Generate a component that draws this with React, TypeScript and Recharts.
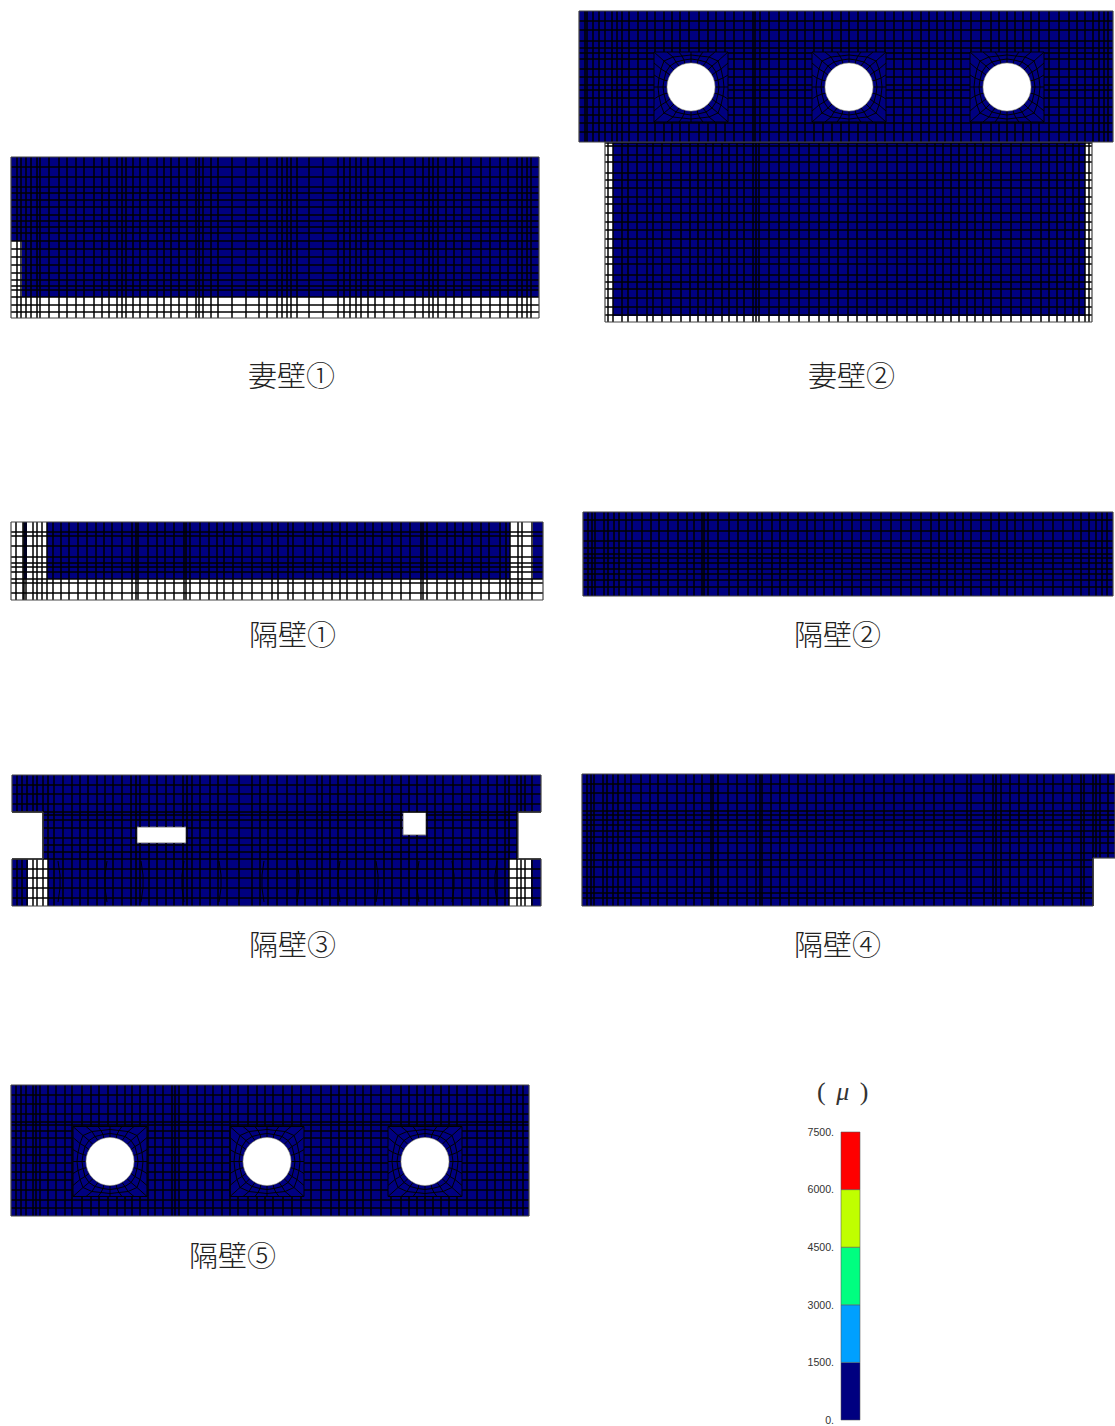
import React from 'react';
import { Bar, BarChart, ComposedChart, Line, ReferenceArea, ReferenceDot, ReferenceLine, XAxis, YAxis } from 'recharts';

type Rect = number[]; // x1, x2, y1, y2
type Pt = number[];

// mesh node lines, in panel units
const end1Xs = [6, 10, 15, 20, 26, 29, 38, 48, 56, 65, 73, 83, 91, 98, 106, 111, 115, 122, 129, 137, 146, 153, 160, 168, 176, 185, 188, 192, 200, 207, 221, 235, 248, 256, 266, 271, 276, 280, 286, 298, 312, 327, 333, 339, 345, 350, 357, 364, 373, 383, 393, 404, 412, 418, 422, 427, 435, 443, 451, 460, 470, 479, 489, 497, 506, 511, 516, 520];
const end1Ys = [10, 20, 30, 36, 43, 50, 58, 64, 70, 76, 84, 92, 100, 108, 116, 123, 129, 133, 140, 148, 155];
const end1Blue = [[0, 528, 0, 84], [11, 528, 84, 140]];

const end2TopXs = [6, 8, 14, 20, 26, 33, 38, 43, 50, 59, 68, 76, 85, 93, 101, 110, 120, 129, 137, 146, 155, 165, 174, 176, 181, 190, 200, 209, 218, 226, 235, 244, 253, 262, 270, 279, 288, 297, 306, 315, 324, 333, 342, 350, 358, 366, 374, 382, 392, 402, 412, 420, 428, 436, 444, 452, 460, 470, 480, 490, 498, 506, 514, 520, 525, 529];
const end2TopYs = [10, 19, 30, 37, 42, 48, 58, 66, 74, 79, 87, 96, 104, 112, 121];
const end2Holes = [[112, 76], [270, 76], [428, 76]];

const end2LowXs = [3, 8, 17, 23, 32, 42, 48, 57, 66, 76, 85, 93, 101, 108, 117, 124, 132, 139, 148, 151, 154, 164, 174, 184, 194, 204, 214, 224, 233, 243, 252, 262, 272, 282, 292, 302, 312, 322, 330, 338, 346, 354, 362, 370, 378, 386, 396, 406, 416, 426, 436, 444, 452, 460, 468, 474, 480, 484];
const end2LowYs = [1, 4, 13, 20, 31, 38, 46, 55, 62, 71, 80, 88, 97, 106, 115, 122, 133, 140, 147, 156, 165, 173];
const end2LowBlue = [[8, 480, 0, 174]];

const part1Xs = [5, 12, 13, 15, 22, 26, 31, 36, 42, 50, 58, 67, 76, 85, 93, 101, 111, 121, 125, 127, 137, 146, 154, 163, 173, 175, 179, 189, 198, 206, 213, 222, 231, 241, 251, 261, 267, 277, 282, 294, 302, 312, 321, 329, 336, 346, 354, 362, 371, 381, 390, 399, 410, 412, 416, 426, 436, 444, 452, 461, 470, 478, 489, 495, 499, 507, 511, 521];
const part1Ys = [10, 14, 24, 35, 41, 45, 50, 57, 61, 71];
const part1Blue = [[13, 16, 0, 57], [36, 499, 0, 57], [522, 532, 0, 57]];

const part2Xs = [5, 9, 12, 21, 25, 31, 36, 43, 49, 59, 68, 76, 85, 95, 104, 111, 119, 121, 125, 135, 146, 155, 165, 174, 179, 189, 197, 205, 215, 224, 232, 241, 251, 259, 269, 278, 288, 298, 308, 318, 328, 338, 348, 356, 364, 372, 380, 388, 398, 408, 416, 424, 432, 440, 450, 460, 470, 480, 490, 498, 506, 513, 519, 524];
const part2Ys = [8, 19, 29, 36, 42, 46, 51, 57, 62, 68, 75];

const part3Xs = [5, 10, 15, 21, 25, 31, 36, 42, 51, 60, 68, 76, 85, 93, 101, 110, 119, 124, 128, 137, 145, 154, 162, 171, 175, 180, 188, 198, 206, 215, 227, 240, 248, 256, 265, 275, 285, 293, 305, 310, 318, 326, 335, 344, 353, 363, 372, 380, 389, 397, 405, 415, 423, 431, 441, 450, 459, 468, 476, 485, 493, 497, 505, 509, 513, 520];
const part3Ys = [10, 19, 29, 37, 40, 45, 53, 63, 70, 77, 84, 94, 103, 113, 123];
const part3Blue = [[0, 529, 0, 37], [31, 506, 37, 84], [0, 16, 84, 131], [36, 497, 84, 131], [519, 529, 84, 131]];
const part3Notches = [[0, 31, 37, 84], [506, 529, 37, 84]];
const part3Openings = [[125, 174, 52, 68], [391, 414, 37, 60]];
// bowed mesh lines in the lower band: x, bulge
const part3Bows = [[46, 2], [95, -2], [129, 2], [172, -2], [207, 2], [252, -2], [285, 2], [328, -2], [364, 2], [407, -2], [440, 2], [485, -2]];

const part4Xs = [5, 9, 12, 21, 25, 31, 36, 43, 49, 59, 68, 76, 85, 95, 104, 112, 120, 129, 131, 136, 146, 155, 165, 174, 178, 180, 189, 198, 207, 216, 225, 234, 243, 252, 262, 272, 282, 292, 302, 312, 322, 332, 342, 352, 362, 372, 385, 389, 402, 411, 414, 419, 428, 437, 446, 455, 462, 471, 481, 490, 499, 502, 511, 514, 518, 526];
const part4Ys = [10, 19, 29, 37, 41, 46, 51, 57, 63, 69, 79, 86, 93, 103, 113, 119, 124];
const part4Blue = [[0, 533, 0, 84], [0, 511, 84, 132]];
const part4Notches = [[511, 533, 84, 132]];

const part5Xs = [5, 10, 15, 22, 25, 29, 37, 45, 54, 61, 71, 80, 88, 97, 106, 114, 121, 129, 137, 144, 152, 161, 164, 168, 177, 186, 194, 202, 211, 219, 227, 237, 246, 254, 262, 272, 281, 290, 300, 310, 320, 328, 336, 344, 352, 360, 370, 380, 390, 398, 406, 414, 422, 430, 438, 446, 456, 466, 476, 484, 492, 500, 506, 512];
const part5Ys = [10, 19, 29, 37, 40, 46, 53, 62, 70, 78, 87, 95, 105, 115, 123];
const part5Holes = [[99, 76.5], [256, 76.5], [414, 76.5]];

// mesh around a round hole, same node order on every ring
const holeEdge = [[-17, -17], [-12, -21], [-6, -23], [0, -24], [6, -23], [12, -21], [17, -17], [21, -12], [23, -6], [24, 0], [23, 6], [21, 12], [17, 17], [12, 21], [6, 23], [0, 24], [-6, 23], [-12, 21], [-17, 17], [-21, 12], [-23, 6], [-24, 0], [-23, -6], [-21, -12]];
const holeRingA = [[-21, -21], [-15, -25], [-7, -27], [0, -28], [7, -27], [15, -25], [21, -21], [25, -15], [27, -7], [28, 0], [27, 7], [25, 15], [21, 21], [15, 25], [7, 27], [0, 28], [-7, 27], [-15, 25], [-21, 21], [-25, 15], [-27, 7], [-28, 0], [-27, -7], [-25, -15]];
const holeRingB = [[-27, -26], [-18, -30], [-9, -31], [0, -32], [9, -31], [18, -30], [27, -26], [30, -18], [32, -9], [33, 0], [32, 9], [30, 18], [27, 26], [18, 30], [9, 31], [0, 32], [-9, 31], [-18, 30], [-27, 26], [-30, 18], [-32, 9], [-33, 0], [-32, -9], [-30, -18]];
const holeRingC = [[-37, -35], [-24, -35], [-12, -35], [0, -35], [12, -35], [24, -35], [37, -35], [37, -24], [37, -12], [37, 0], [37, 12], [37, 24], [37, 35], [24, 35], [12, 35], [0, 35], [-12, 35], [-24, 35], [-37, 35], [-37, 24], [-37, 12], [-37, 0], [-37, -12], [-37, -24]];
const holeRings = [holeEdge, holeRingA, holeRingB, holeRingC];
const holeRadius = 24;

// colour scale
const scaleTicks = [0, 1500, 3000, 4500, 6000, 7500];
const scaleBands = [1500, 1500, 1500, 1500, 1500];
const scaleColors = ['#000080', '#00a0ff', '#00ff80', '#c0ff00', '#ff0000'];
const scaleRow: Record<string, number | string> = { name: 'strain' };
scaleBands.forEach((v, i) => { scaleRow[`band${i}`] = v; });

const captions = [
  { text: '妻壁①', left: 248, top: 374 },
  { text: '妻壁②', left: 808, top: 374 },
  { text: '隔壁①', left: 249, top: 633 },
  { text: '隔壁②', left: 794, top: 633 },
  { text: '隔壁③', left: 249, top: 943 },
  { text: '隔壁④', left: 794, top: 943 },
  { text: '隔壁⑤', left: 189, top: 1254 },
];

const BLUE = '#000080';
const MESH = '#000';
const MESH_W = 1.5;
const HOLE_MESH_W = 1;

// breaks one span so it stays out of the cut rectangles
function splitSpan(fixed: number, from: number, to: number, cuts: Rect[], vertical: boolean) {
  let spans = [[from, to]];
  cuts.forEach(([x1, x2, y1, y2]) => {
    const [a0, a1, b0, b1] = vertical ? [x1, x2, y1, y2] : [y1, y2, x1, x2];
    if (fixed <= a0 || fixed >= a1) return;
    spans = spans.flatMap(([s, e]) => {
      if (e <= b0 || s >= b1) return [[s, e]];
      const out: number[][] = [];
      if (s < b0) out.push([s, b0]);
      if (e > b1) out.push([b1, e]);
      return out;
    });
  });
  return spans;
}

function seg(key: string, a: Pt, b: Pt, stroke = MESH, strokeWidth = MESH_W) {
  return (
    <ReferenceLine
      key={key}
      segment={[{ x: a[0], y: a[1] }, { x: b[0], y: b[1] }]}
      stroke={stroke}
      strokeWidth={strokeWidth}
      ifOverflow="visible"
    />
  );
}

interface WallProps {
  left: number;
  top: number;
  w: number;
  h: number;
  xs: number[];
  ys: number[];
  blue?: Rect[];
  notches?: Rect[];
  openings?: Rect[];
  holes?: number[][];
  bows?: number[][];
  outline: Pt[];
}

function Wall({ left, top, w, h, xs, ys, blue, notches = [], openings = [], holes = [], bows = [], outline }: WallProps) {
  const zones = holes.map(([cx, cy]) => [cx - 37, cx + 37, cy - 35, cy + 35]);
  const cuts = [...notches, ...openings, ...zones];
  const regions = blue ?? [[0, w, 0, h]];
  // the two panel corners give the chart a row to scale against
  const corners = [{ x: 0, y: 0 }, { x: w, y: h }];

  return (
    <div style={{ position: 'absolute', left: left - 1, top: top - 1 }}>
      <ComposedChart width={w + 2} height={h + 2} data={corners} margin={{ top: 1, right: 1, bottom: 1, left: 1 }}>
        <XAxis type="number" dataKey="x" domain={[0, w]} hide />
        <YAxis type="number" dataKey="y" domain={[0, h]} reversed hide />
        <Line dataKey="y" stroke="none" dot={false} legendType="none" isAnimationActive={false} />
        {regions.map((r, i) => (
          <ReferenceArea key={`b${i}`} x1={r[0]} x2={r[1]} y1={r[2]} y2={r[3]} fill={BLUE} fillOpacity={1} stroke="none" ifOverflow="visible" />
        ))}
        {xs.flatMap((x, i) =>
          splitSpan(x, 0, h, cuts, true).map(([s, e], j) => seg(`x${i}-${j}`, [x, s], [x, e])),
        )}
        {ys.flatMap((y, i) =>
          splitSpan(y, 0, w, cuts, false).map(([s, e], j) => seg(`y${i}-${j}`, [s, y], [e, y])),
        )}
        {bows.flatMap(([x, bulge], i) => [
          seg(`w${i}a`, [x, 86], [x + bulge, 100], MESH, HOLE_MESH_W),
          seg(`w${i}b`, [x + bulge, 100], [x + bulge, 113], MESH, HOLE_MESH_W),
          seg(`w${i}c`, [x + bulge, 113], [x, 127], MESH, HOLE_MESH_W),
        ])}
        {holes.flatMap(([cx, cy], n) =>
          holeRings.flatMap((ring, r) =>
            ring.flatMap((p, i) => {
              const at = (q: Pt): Pt => [cx + q[0], cy + q[1]];
              const next = ring[(i + 1) % ring.length];
              const parts = [seg(`h${n}-${r}-${i}`, at(p), at(next), MESH, HOLE_MESH_W)];
              if (r < holeRings.length - 1) parts.push(seg(`s${n}-${r}-${i}`, at(p), at(holeRings[r + 1][i]), MESH, HOLE_MESH_W));
              return parts;
            }),
          ),
        )}
        {openings.map((r, i) => (
          <ReferenceArea key={`o${i}`} x1={r[0]} x2={r[1]} y1={r[2]} y2={r[3]} fill="#fff" fillOpacity={1} stroke="#777" ifOverflow="visible" />
        ))}
        {holes.map(([cx, cy], n) => (
          <ReferenceDot key={`d${n}`} x={cx} y={cy} r={holeRadius} fill="#fff" stroke="#aaa" strokeWidth={0.6} ifOverflow="visible" />
        ))}
        {outline.map((p, i) => seg(`l${i}`, p, outline[(i + 1) % outline.length], '#444', 1.2))}
      </ComposedChart>
    </div>
  );
}

function ScaleBar() {
  return (
    <div style={{ position: 'absolute', left: 790, top: 1122 }}>
      <BarChart
        width={75}
        height={304}
        data={[scaleRow]}
        margin={{ top: 10, right: 5, bottom: 6, left: 0 }}
        barCategoryGap={0}
      >
        <XAxis dataKey="name" hide />
        <YAxis
          width={51}
          domain={[0, 7500]}
          ticks={scaleTicks}
          interval={0}
          axisLine={false}
          tickLine={false}
          tickSize={0}
          tickMargin={7}
          tickFormatter={(v: number) => `${v}.`}
          tick={{ fontFamily: 'Liberation Sans', fontSize: 10.6, fill: '#333' }}
        />
        {scaleBands.map((_, i) => (
          <Bar
            key={i}
            dataKey={`band${i}`}
            stackId="scale"
            fill={scaleColors[i]}
            stroke="#555"
            strokeOpacity={0.55}
            isAnimationActive={false}
          />
        ))}
      </BarChart>
    </div>
  );
}

export default function App() {
  return (
    <div style={{ position: 'absolute', left: 0, top: 0, width: 1115, height: 1426, background: '#fff', overflow: 'hidden' }}>
      <Wall left={11} top={157} w={528} h={161} xs={end1Xs} ys={end1Ys} blue={end1Blue}
        outline={[[0, 0], [528, 0], [528, 161], [0, 161]]} />
      <Wall left={605} top={142} w={487} h={180} xs={end2LowXs} ys={end2LowYs} blue={end2LowBlue}
        outline={[[0, 0], [487, 0], [487, 180], [0, 180]]} />
      <Wall left={579} top={11} w={534} h={131} xs={end2TopXs} ys={end2TopYs} holes={end2Holes}
        outline={[[0, 0], [534, 0], [534, 131], [0, 131]]} />
      <Wall left={11} top={522} w={532} h={78} xs={part1Xs} ys={part1Ys} blue={part1Blue}
        outline={[[0, 0], [532, 0], [532, 78], [0, 78]]} />
      <Wall left={583} top={512} w={530} h={84} xs={part2Xs} ys={part2Ys}
        outline={[[0, 0], [530, 0], [530, 84], [0, 84]]} />
      <Wall left={12} top={775} w={529} h={131} xs={part3Xs} ys={part3Ys} blue={part3Blue}
        notches={part3Notches} openings={part3Openings} bows={part3Bows}
        outline={[[0, 0], [529, 0], [529, 37], [506, 37], [506, 84], [529, 84], [529, 131], [0, 131], [0, 84], [31, 84], [31, 37], [0, 37]]} />
      <Wall left={582} top={774} w={533} h={132} xs={part4Xs} ys={part4Ys} blue={part4Blue} notches={part4Notches}
        outline={[[0, 0], [533, 0], [533, 84], [511, 84], [511, 132], [0, 132]]} />
      <Wall left={11} top={1085} w={518} h={131} xs={part5Xs} ys={part5Ys} holes={part5Holes}
        outline={[[0, 0], [518, 0], [518, 131], [0, 131]]} />

      {captions.map((c) => (
        <div
          key={c.text}
          style={{
            position: 'absolute',
            left: c.left,
            top: c.top - 20,
            lineHeight: '40px',
            fontFamily: '"Noto Sans CJK JP"',
            fontSize: 29,
            fontWeight: 300,
            color: '#222',
            whiteSpace: 'nowrap',
          }}
        >
          {c.text}
        </div>
      ))}

      <div
        style={{
          position: 'absolute',
          left: 817,
          top: 1072,
          lineHeight: '40px',
          fontFamily: '"Liberation Serif"',
          fontSize: 26,
          color: '#333',
          wordSpacing: 4,
          whiteSpace: 'nowrap',
        }}
      >
        ( <i>μ</i> )
      </div>

      <ScaleBar />
    </div>
  );
}
